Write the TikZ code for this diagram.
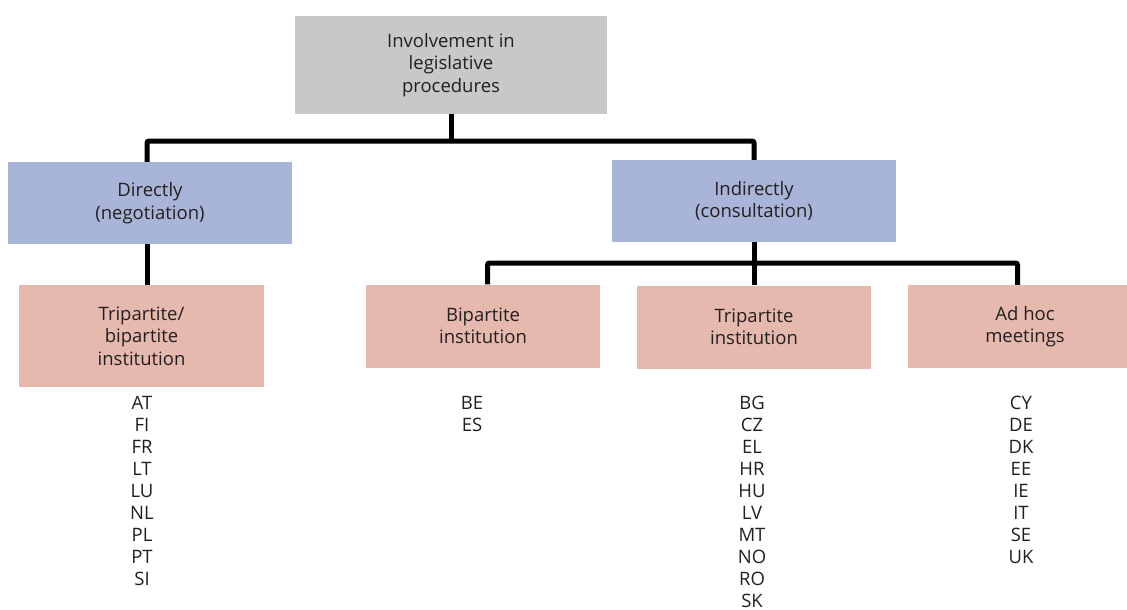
\documentclass[tikz,border=0pt]{standalone}
\usepackage{fontspec}
\setmainfont{Open Sans}
\usetikzlibrary{positioning}
\definecolor{hdgrey}{RGB}{199,200,202}
\definecolor{mdblue}{RGB}{169,181,216}
\definecolor{inspink}{RGB}{230,185,174}
\definecolor{txt}{RGB}{35,31,32}
\tikzstyle{blk}=[inner sep=0pt,align=center,text=txt,font=\fontsize{18.5}{22.5}\selectfont]
\tikzstyle{hd}=[blk,fill=hdgrey,minimum width=312pt,minimum height=98pt]
\tikzstyle{md}=[blk,fill=mdblue,minimum width=284pt,minimum height=82pt]
\tikzstyle{ins}=[blk,fill=inspink,minimum width=234pt,minimum height=83pt]
\tikzstyle{cty}=[blk,anchor=north,font=\fontsize{18.5}{22}\selectfont]
\tikzstyle{lnk}=[line width=5pt,black,rounded corners=2pt]

\begin{document}
\begin{tikzpicture}[x=1pt,y=-1pt]
    \useasboundingbox (0,0) rectangle (1127,610);
    \clip (0,0) rectangle (1127,610);
    % boxes
    \node[hd] (inv) at (451,65) {Involvement in\\legislative\\procedures};
    \node[md] (direct) at (150,203) {Directly\\(negotiation)};
    \node[md] (indirect) at (754,201) {Indirectly\\(consultation)};
    \node[ins,minimum width=245pt,minimum height=102pt] (tribi) at (141.5,336) {Tripartite/\\bipartite\\institution};
    \node[ins] (bip) at (483,326) {Bipartite\\institution};
    \node[ins] (trip) at (754,327) {Tripartite\\institution};
    \node[ins] (adhoc) at (1025,326.5) {Ad hoc\\meetings};
    % country lists
    \foreach \xl/\nm/\cs in {142/lsta/{AT\\FI\\FR\\LT\\LU\\NL\\PL\\PT\\SI}, 472/lstb/{BE\\ES}, 752/lstc/{BG\\CZ\\EL\\HR\\HU\\LV\\MT\\NO\\RO\\SK}, 1021/lstd/{CY\\DE\\DK\\EE\\IE\\IT\\SE\\UK}}
        \node[cty] (\nm) at (\xl,396) {\cs};
    % connectors
    \coordinate (ja) at (451,141);
    \coordinate (jb) at (754,263);
    \draw[lnk] (inv.south) -- (ja);
    \draw[lnk] (ja) -| ([xshift=-3pt]direct.north);
    \draw[lnk] (ja) -| (indirect.north);
    \draw[lnk] ([xshift=-3pt]direct.south) -- ([xshift=-3pt]direct.south |- tribi.north);
    \draw[lnk] (indirect.south) -- (trip.north);
    \draw[lnk] (jb) -| ([xshift=4.5pt]bip.north);
    \draw[lnk] (jb) -| ([xshift=-7.5pt]adhoc.north);
\end{tikzpicture}
\end{document}
